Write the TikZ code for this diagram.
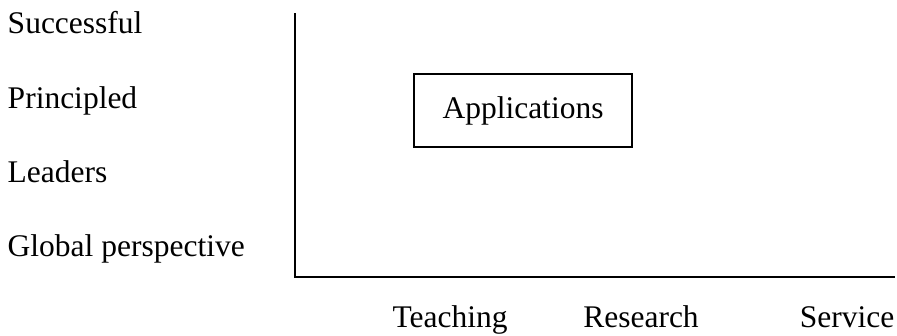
\documentclass[tikz,border=0pt]{standalone}
\usepackage{fontspec}
\setmainfont{Liberation Serif}
\usetikzlibrary{positioning}

\begin{document}
\begin{tikzpicture}[x=1pt,y=-1pt,line width=1.5pt,font=\fontsize{31.5}{38}\selectfont]
    \useasboundingbox (0,0) rectangle (897,335);

    \node[anchor=base west,inner sep=0pt] (succ) at (7,33) {Successful};
    \node[anchor=base west,inner sep=0pt] (prin) at (7,108) {Principled};
    \node[anchor=base west,inner sep=0pt] (lead) at (7,182) {Leaders};
    \node[anchor=base west,inner sep=0pt] (glob) at (7,256) {Global perspective};

    \coordinate (top) at (295,13);
    \coordinate (origin) at (295,277);
    \coordinate (right) at (895,277);
    \draw (top) -- (origin) -- (right);

    \node[rectangle,draw,minimum width=218pt,minimum height=73pt] (app) at (523,110.5) {Applications};

    \node[anchor=base,inner sep=0pt] (teach) at (450,327) {Teaching};
    \node[anchor=base,inner sep=0pt] (res) at (641,327) {Research};
    \node[anchor=base,inner sep=0pt] (serv) at (847,327) {Service};
\end{tikzpicture}
\end{document}
